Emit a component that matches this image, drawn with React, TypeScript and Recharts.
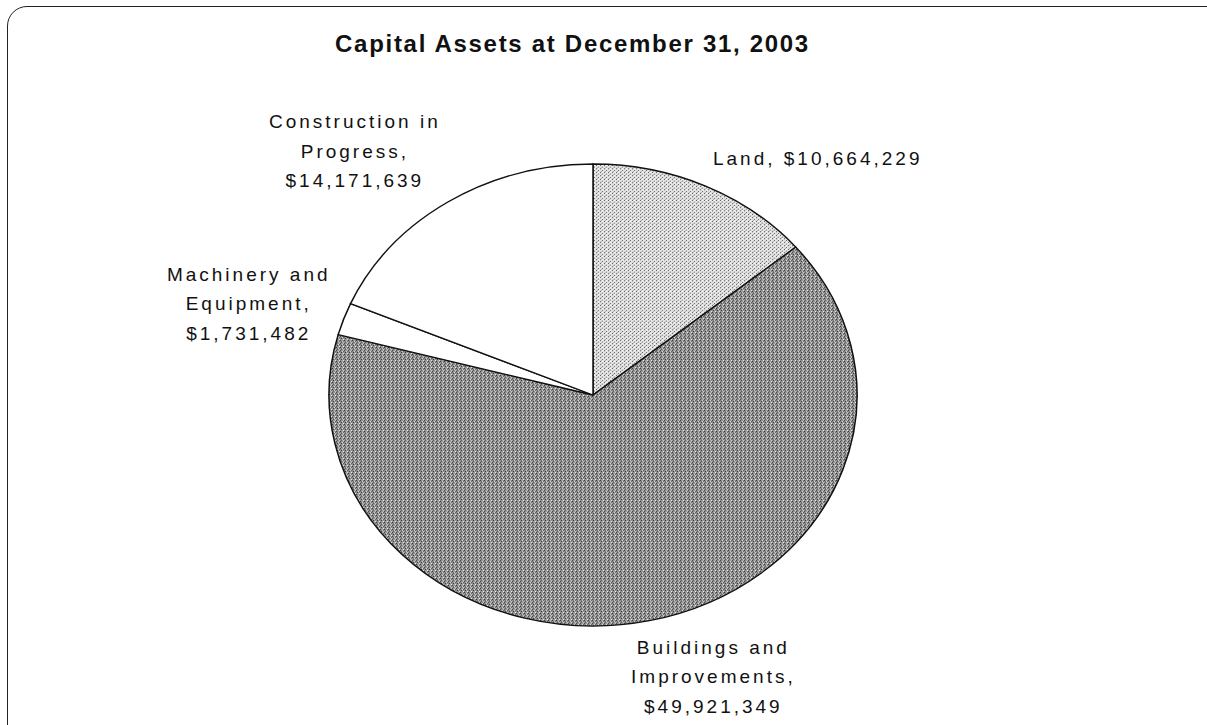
import { PieChart, Pie, Cell } from 'recharts';

// Capital assets by category, Dec 31 2003
const categories = [
  'Land',
  'Buildings and Improvements',
  'Machinery and Equipment',
  'Construction in Progress',
];
const values = [10664229, 49921349, 1731482, 14171639];
// how each category name wraps in its label
const labelLines = [
  ['Land'],
  ['Buildings and', 'Improvements'],
  ['Machinery and', 'Equipment'],
  ['Construction in', 'Progress'],
];

const fills = ['url(#landDots)', 'url(#bldgDots)', '#ffffff', '#ffffff'];

// label placement relative to the rim point at each slice's mid angle
const labelOffsets = [
  { dx: 8, dy: -21, anchor: 'start' },
  { dx: 64, dy: 33, anchor: 'middle' },
  { dx: -95, dy: -38, anchor: 'middle' },
  { dx: -93, dy: -74, anchor: 'middle' },
];

const W = 1207;
const H = 725;
const CX = 593;
const CY = 395;
const R = 264;
const SQUASH = 231 / 264; // the pie is drawn as an ellipse
const FONT = '"Liberation Sans", Arial, sans-serif';

const data = categories.map((name, i) => ({ name, value: values[i] }));

const renderLabel = (props: any) => {
  const { cx, cy, midAngle, outerRadius, index, value } = props;
  const rad = (midAngle * Math.PI) / 180;
  const px = cx + outerRadius * Math.cos(rad);
  const py = cy - outerRadius * SQUASH * Math.sin(rad);
  const off = labelOffsets[index];
  const money = '$' + Number(value).toLocaleString('en-US');
  const words = labelLines[index];
  const lines =
    words.length === 1
      ? [`${words[0]}, ${money}`]
      : [...words.slice(0, -1), words[words.length - 1] + ',', money];
  return (
    <text
      x={px + off.dx}
      y={py + off.dy}
      textAnchor={off.anchor as any}
      fontSize={19}
      letterSpacing={3}
      fill="#111"
      fontFamily={FONT}
    >
      {lines.map((l, i) => (
        <tspan key={i} x={px + off.dx} y={py + off.dy + i * 29.5}>
          {l}
        </tspan>
      ))}
    </text>
  );
};

export default function App() {
  return (
    <div
      style={{
        position: 'absolute',
        left: 0,
        top: 0,
        width: W,
        height: H,
        overflow: 'hidden',
        background: '#fff',
      }}
    >
      <style>{`.recharts-pie { transform: scaleY(${SQUASH}); transform-origin: ${CX}px ${CY}px; }`}</style>
      <div
        style={{
          position: 'absolute',
          left: 7,
          top: 6,
          width: 1220,
          height: 740,
          border: '1.5px solid #222',
          borderRadius: 20,
          boxSizing: 'border-box',
        }}
      />
      <div
        style={{
          position: 'absolute',
          left: 0,
          width: 1145,
          top: 30,
          textAlign: 'center',
          fontFamily: FONT,
          fontWeight: 'bold',
          fontSize: 24,
          letterSpacing: 1.7,
          color: '#111',
        }}
      >
        Capital Assets at December 31, 2003
      </div>
      <div style={{ position: 'absolute', left: 0, top: 0 }}>
        <PieChart width={W} height={H} margin={{ top: 0, right: 0, bottom: 0, left: 0 }}>
          <defs>
            <pattern id="landDots" width="4" height="4" patternUnits="userSpaceOnUse">
              <rect width="4" height="4" fill="#e2e2e2" />
              <rect x="0" y="0" width="1" height="1" fill="#444" />
              <rect x="2" y="2" width="1" height="1" fill="#666" />
              <rect x="2" y="0" width="1" height="1" fill="#ffffff" />
              <rect x="1" y="3" width="1" height="1" fill="#aaa" />
            </pattern>
            <pattern id="bldgDots" width="4" height="4" patternUnits="userSpaceOnUse">
              <rect width="4" height="4" fill="#959595" />
              <rect x="0" y="0" width="1" height="1" fill="#222" />
              <rect x="2" y="1" width="1" height="1" fill="#e8e8e8" />
              <rect x="1" y="2" width="1" height="1" fill="#333" />
              <rect x="3" y="3" width="1" height="1" fill="#f0f0f0" />
              <rect x="3" y="1" width="1" height="1" fill="#555" />
            </pattern>
          </defs>
          <Pie
            data={data}
            dataKey="value"
            nameKey="name"
            cx={CX}
            cy={CY}
            outerRadius={R}
            startAngle={90}
            endAngle={-270}
            stroke="#111"
            strokeWidth={1.5}
            label={renderLabel}
            labelLine={false}
            isAnimationActive={false}
          >
            {data.map((d, i) => (
              <Cell key={d.name} fill={fills[i]} />
            ))}
          </Pie>
        </PieChart>
      </div>
    </div>
  );
}
